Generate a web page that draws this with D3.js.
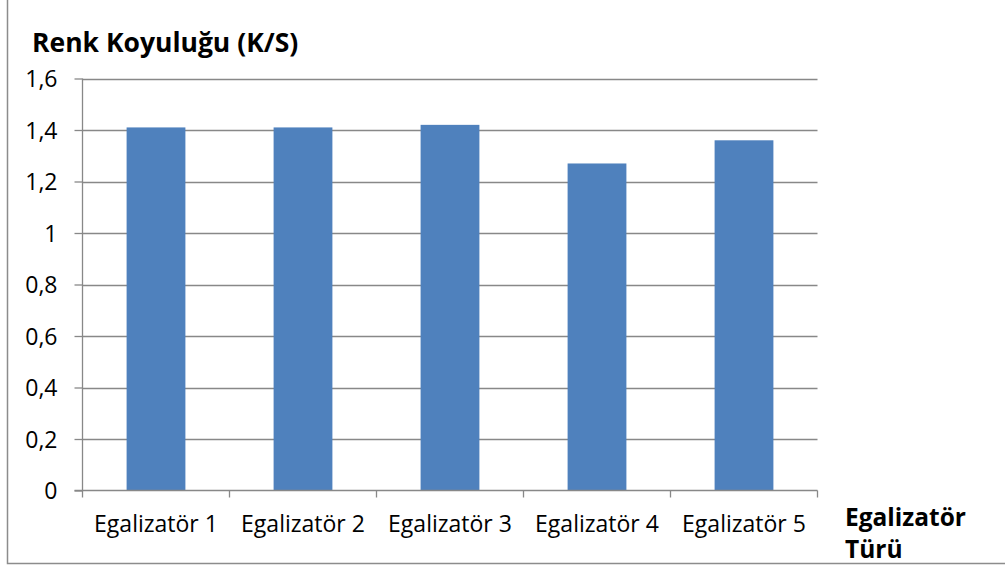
<!DOCTYPE html>
<html>
<head>
<meta charset="utf-8">
<script src="https://cdn.jsdelivr.net/npm/d3@7"></script>
<style>
  html, body { margin: 0; padding: 0; background: #fff; }
  svg { display: block; font-family: "Open Sans", "Liberation Sans", sans-serif; }
</style>
</head>
<body>
<svg id="chart" width="1005" height="570"></svg>
<script>
// Renk koyuluğu (K/S) değerleri, egalizatör türüne göre
const categories = ["Egalizatör 1", "Egalizatör 2", "Egalizatör 3", "Egalizatör 4", "Egalizatör 5"];
const values = [1.41, 1.41, 1.42, 1.27, 1.36];
const yTicks = [0, 0.2, 0.4, 0.6, 0.8, 1, 1.2, 1.4, 1.6];
const yTitle = "Renk Koyuluğu (K/S)";
const xTitleLines = ["Egalizatör", "Türü"];

const svg = d3.select("#chart");
const plot = { left: 82.5, right: 817.5, top: 78.5, bottom: 490.5 };

// outer chart frame
svg.append("path")
  .attr("d", "M7.5,-2 L7.5,563.5 L1010,563.5")
  .attr("fill", "none").attr("stroke", "#8c8c8c").attr("stroke-width", 1.5);

const x = d3.scaleBand().domain(categories).range([plot.left, plot.right])
  .paddingInner(0.6).paddingOuter(0.3);
const y = d3.scaleLinear().domain([0, 1.6]).range([plot.bottom, plot.top]);

const fmt = d => String(d).replace(".", ",");

// gridlines
svg.append("g").selectAll("line").data(yTicks.filter(d => d > 0)).join("line")
  .attr("x1", plot.left).attr("x2", plot.right)
  .attr("y1", d => Math.round(y(d)) + 0.5).attr("y2", d => Math.round(y(d)) + 0.5)
  .attr("stroke", "#888").attr("stroke-width", 1.3);

// bars
svg.append("g").selectAll("rect").data(values).join("rect")
  .attr("x", (d, i) => x(categories[i]))
  .attr("width", x.bandwidth())
  .attr("y", d => y(d))
  .attr("height", d => y(0) - y(d))
  .attr("fill", "#4f81bd");

// y axis
const yAxis = d3.axisLeft(y).tickValues(yTicks).tickFormat(fmt).tickSize(8).tickPadding(17);
const gy = svg.append("g").attr("transform", `translate(${plot.left},0)`).call(yAxis);
gy.attr("font-family", null).attr("font-size", null);
gy.selectAll("text").attr("font-size", 23).attr("fill", "#000").attr("dy", "0.35em");
gy.selectAll("line, path").attr("stroke", "#888").attr("stroke-width", 1.3);
gy.select(".domain").attr("d", `M0,${plot.top}V${plot.bottom}`);

// x axis: ticks at category boundaries
const bounds = d3.range(categories.length + 1).map(i => plot.left + i * (plot.right - plot.left) / categories.length);
const gx = svg.append("g");
gx.append("line").attr("x1", plot.left - 8).attr("x2", plot.right)
  .attr("y1", plot.bottom).attr("y2", plot.bottom)
  .attr("stroke", "#888").attr("stroke-width", 1.3);
gx.selectAll("line.tk").data(bounds).join("line").attr("class", "tk")
  .attr("x1", d => d).attr("x2", d => d)
  .attr("y1", plot.bottom).attr("y2", plot.bottom + 7)
  .attr("stroke", "#888").attr("stroke-width", 1.3);
gx.selectAll("text").data(categories).join("text")
  .attr("x", d => x(d) + x.bandwidth() / 2)
  .attr("y", 532)
  .attr("text-anchor", "middle")
  .attr("font-size", 23)
  .text(d => d);

// axis titles
svg.append("text").attr("x", 32).attr("y", 52)
  .attr("font-size", 26.5).attr("font-weight", "bold").text(yTitle);
svg.append("text").attr("x", 845).attr("font-size", 24.5).attr("font-weight", "bold")
  .selectAll("tspan").data(xTitleLines).join("tspan")
  .attr("x", 845).attr("y", (d, i) => 526 + i * 32).text(d => d);
</script>
</body>
</html>
